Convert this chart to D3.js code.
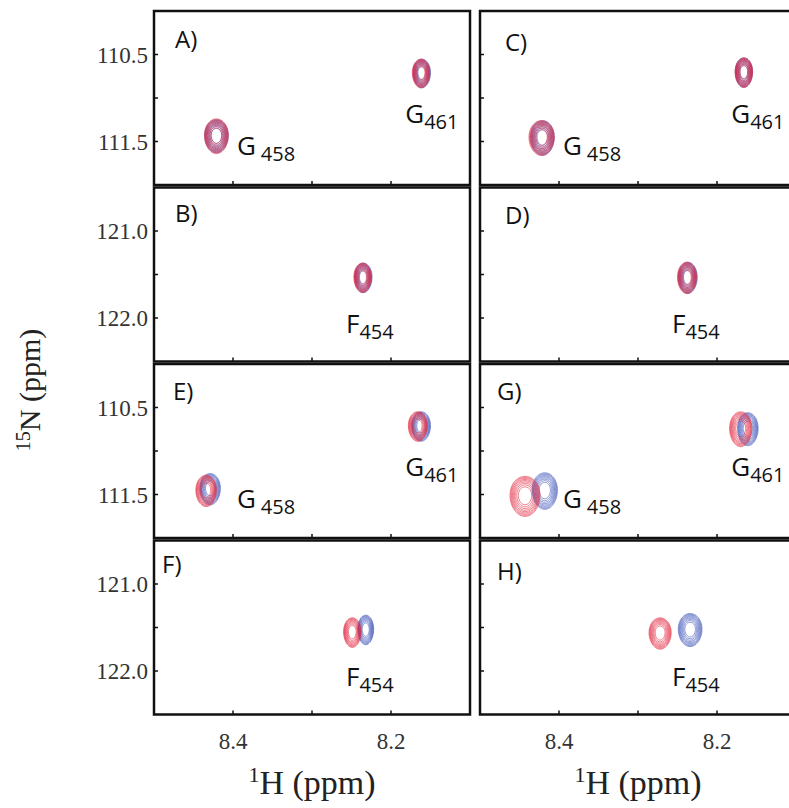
<!DOCTYPE html>
<html><head><meta charset="utf-8">
<script src="https://cdn.jsdelivr.net/npm/d3@7"></script>
<style>body{margin:0;background:#fff}svg{display:block}</style>
</head><body>
<svg id="chart" width="789" height="808"></svg>
<script>
// ---------------- DATA ----------------
const panelLetters = ["A)", "B)", "C)", "D)", "E)", "F)", "G)", "H)"];
const panelRegion  = ["G", "F", "G", "F", "G", "F", "G", "F"];   // glycine region / phenylalanine region
const hDomain = [8.5, 8.1];
const hTicks = [8.4, 8.3, 8.2];
const hTickLabels = ["8.4", "", "8.2"];
const nDomainG = [110.0, 112.0];
const nDomainF = [120.5, 122.5];
const nTicksG = [110.5, 111.0, 111.5];
const nTicksF = [121.0, 121.5, 122.0];
const nTickLabelsG = ["110.5", "", "111.5"];
const nTickLabelsF = ["121.0", "", "122.0"];

// peaks: [panel, residue, 1H ppm, 15N ppm, 1H half-width ppm, 15N half-width ppm]
const peaksBlue = [
  ["A", "G458", 8.421, 111.43, 0.015, 0.19], ["A", "G461", 8.161, 110.71, 0.011, 0.165],
  ["C", "G458", 8.421, 111.45, 0.015, 0.20], ["C", "G461", 8.166, 110.70, 0.011, 0.17],
  ["B", "F454", 8.235, 121.53, 0.011, 0.17], ["D", "F454", 8.237, 121.53, 0.012, 0.18],
  ["E", "G458", 8.429, 111.43, 0.013, 0.18], ["E", "G461", 8.162, 110.71, 0.012, 0.17],
  ["G", "G458", 8.418, 111.45, 0.016, 0.21], ["G", "G461", 8.161, 110.74, 0.013, 0.19],
  ["F", "F454", 8.232, 121.52, 0.010, 0.17], ["H", "F454", 8.234, 121.52, 0.015, 0.19]
];
const peaksRed = [
  ["A", "G458", 8.421, 111.43, 0.015, 0.20], ["A", "G461", 8.162, 110.71, 0.011, 0.165],
  ["C", "G458", 8.422, 111.45, 0.016, 0.20], ["C", "G461", 8.166, 110.70, 0.011, 0.17],
  ["B", "F454", 8.236, 121.53, 0.011, 0.17], ["D", "F454", 8.238, 121.53, 0.012, 0.18],
  ["E", "G458", 8.434, 111.45, 0.013, 0.18], ["E", "G461", 8.166, 110.71, 0.012, 0.17],
  ["G", "G458", 8.443, 111.51, 0.019, 0.23], ["G", "G461", 8.170, 110.74, 0.014, 0.20],
  ["F", "F454", 8.249, 121.55, 0.011, 0.17], ["H", "F454", 8.272, 121.56, 0.014, 0.18]
];
// residue labels: [region, letter, number, 1H ppm of text start, 15N ppm of baseline, gap]
const residueLabels = [
  ["G", "G", "458", 8.395, 111.66, true],
  ["G", "G", "461", 8.182, 111.29, false],
  ["F", "F", "454", 8.257, 122.17, false]
];

// ---------------- LAYOUT ----------------
const svg = d3.select("#chart");
const colX = [154, 480], panelW = 316;
const rowY = [11, 187.5, 364, 540.5], panelH = 174;
const gridPos = {A:[0,0], B:[1,0], C:[0,1], D:[1,1], E:[2,0], F:[3,0], G:[2,1], H:[3,1]};
const letterPos = {A:[175,40], B:[175,214], C:[505,43], D:[505,216], E:[173,392], F:[162,565], G:[497,392], H:[497,572]};
const red = "#e3263f", blue = "#3f55b8";

const defs = svg.append("defs");

panelLetters.forEach((lab, i) => {
  const key = lab[0];
  const [row, col] = gridPos[key];
  const x0 = colX[col], y0 = rowY[row];
  const region = panelRegion[i];
  const x = d3.scaleLinear().domain(hDomain).range([x0, x0 + panelW]);
  const y = d3.scaleLinear().domain(region === "G" ? nDomainG : nDomainF).range([y0, y0 + panelH]);
  const nTicks = region === "G" ? nTicksG : nTicksF;
  const nLabels = region === "G" ? nTickLabelsG : nTickLabelsF;

  defs.append("clipPath").attr("id", "clip" + key)
    .append("rect").attr("x", x0).attr("y", y0).attr("width", panelW).attr("height", panelH);

  const g = svg.append("g");
  const plot = g.append("g").attr("clip-path", `url(#clip${key})`);

  // contours
  const line = d3.line().curve(d3.curveCardinalClosed.tension(0.2));
  const angles = d3.range(0, 2 * Math.PI, Math.PI / 18);
  const drawPeaks = (list, color) => {
    list.filter(p => p[0] === key).forEach(p => {
      const [, , h, n, wh, wn] = p;
      d3.range(0, 9).forEach(k => {
        const r = Math.sqrt(1 - k / 10);
        const pts = angles.map(t => [x(h + wh * r * Math.cos(t)), y(n + wn * r * Math.sin(t) * (1 + 0.05 * Math.sin(t)))]);
        plot.append("path").attr("d", line(pts)).attr("fill", "none")
          .attr("stroke", color).attr("stroke-width", 0.7).attr("stroke-opacity", 0.85);
      });
    });
  };
  drawPeaks(peaksBlue, blue);
  drawPeaks(peaksRed, red);

  // residue labels
  residueLabels.filter(l => l[0] === region).forEach(l => {
    const t = g.append("text").attr("x", x(l[3])).attr("y", y(l[4]))
      .attr("font-family", "Open Sans, Noto Sans, sans-serif").attr("font-size", 26).attr("fill", "#111");
    t.append("tspan").text(l[1]);
    t.append("tspan").attr("dx", l[5] ? 5 : 0).attr("dy", 6).attr("font-size", 20).text(l[2]);
  });

  // ticks (inward, left and bottom)
  g.selectAll(".yt").data(nTicks).join("line")
    .attr("x1", x0).attr("x2", x0 + 4).attr("y1", d => y(d)).attr("y2", d => y(d))
    .attr("stroke", "#111").attr("stroke-width", 1.5);
  g.selectAll(".xt").data(hTicks).join("line")
    .attr("x1", d => x(d)).attr("x2", d => x(d)).attr("y1", y0 + panelH).attr("y2", y0 + panelH - 4)
    .attr("stroke", "#111").attr("stroke-width", 1.5);

  // frame
  g.append("rect").attr("x", x0).attr("y", y0).attr("width", panelW).attr("height", panelH)
    .attr("fill", "none").attr("stroke", "#111").attr("stroke-width", 2.5);

  // panel letter
  const lp = letterPos[key];
  g.append("text").attr("x", lp[0]).attr("y", lp[1] + 8).text(lab)
    .attr("font-family", "Open Sans, Noto Sans, sans-serif").attr("font-size", 24).attr("fill", "#111");

  // y tick labels (left column)
  if (col === 0) {
    nTicks.forEach((d, j) => {
      if (!nLabels[j]) return;
      g.append("text").attr("x", x0 - 6).attr("y", y(d) + 8).attr("text-anchor", "end")
        .attr("font-family", "Liberation Serif, serif").attr("font-size", 23).attr("fill", "#333")
        .text(nLabels[j]);
    });
  }
  // x tick labels (bottom row)
  if (row === 3) {
    hTicks.forEach((d, j) => {
      if (!hTickLabels[j]) return;
      g.append("text").attr("x", x(d)).attr("y", 749).attr("text-anchor", "middle")
        .attr("font-family", "Liberation Serif, serif").attr("font-size", 23).attr("fill", "#333")
        .text(hTickLabels[j]);
    });
  }
});

// axis titles
colX.forEach(cx => {
  const t = svg.append("text").attr("x", cx + 158).attr("y", 794).attr("text-anchor", "middle")
    .attr("font-family", "Liberation Serif, serif").attr("font-size", 34).attr("fill", "#222");
  t.append("tspan").attr("font-size", 22).attr("dy", -12).text("1");
  t.append("tspan").attr("dy", 12).text("H (ppm)");
});
const yt = svg.append("text").attr("transform", "translate(40,390) rotate(-90)").attr("text-anchor", "middle")
  .attr("font-family", "Liberation Serif, serif").attr("font-size", 30).attr("fill", "#222");
yt.append("tspan").attr("font-size", 20).attr("dy", -10).text("15");
yt.append("tspan").attr("dy", 10).text("N (ppm)");
</script>
</body></html>
